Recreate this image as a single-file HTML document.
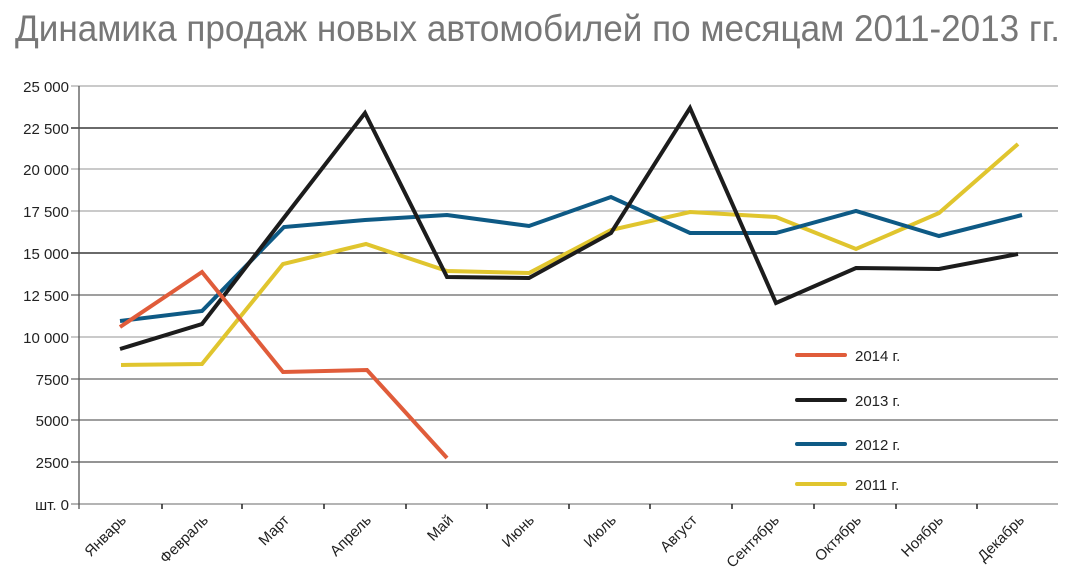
<!DOCTYPE html>
<html><head><meta charset="utf-8"><style>
html,body{margin:0;padding:0;background:#fff;}
svg{display:block;font-family:"Liberation Sans","DejaVu Sans",sans-serif;}
</style></head><body>
<svg width="1081" height="585" viewBox="0 0 1081 585" xmlns="http://www.w3.org/2000/svg">
<text x="15" y="41" font-size="37" fill="#777" textLength="1045" lengthAdjust="spacingAndGlyphs">Динамика продаж новых автомобилей по месяцам 2011-2013 гг.</text>
<g stroke-width="1.3">
<line x1="71" y1="86" x2="1058" y2="86" stroke="#aaa"/>
<line x1="71" y1="128" x2="1058" y2="128" stroke="#111"/>
<line x1="71" y1="169" x2="1058" y2="169" stroke="#aaa"/>
<line x1="71" y1="211" x2="1058" y2="211" stroke="#aaa"/>
<line x1="71" y1="253" x2="1058" y2="253" stroke="#111"/>
<line x1="71" y1="295" x2="1058" y2="295" stroke="#666"/>
<line x1="71" y1="337" x2="1058" y2="337" stroke="#aaa"/>
<line x1="71" y1="379" x2="1058" y2="379" stroke="#666"/>
<line x1="71" y1="420" x2="1058" y2="420" stroke="#666"/>
<line x1="71" y1="462" x2="1058" y2="462" stroke="#555"/>
<line x1="71" y1="504" x2="1058" y2="504" stroke="#aaa" stroke-width="1.8"/>
<line x1="79" y1="86" x2="79" y2="509" stroke="#555"/>
</g>
<g stroke="#222" stroke-width="1.5">
<line x1="162" y1="504" x2="162" y2="509"/><line x1="242" y1="504" x2="242" y2="509"/><line x1="324" y1="504" x2="324" y2="509"/><line x1="406" y1="504" x2="406" y2="509"/><line x1="487" y1="504" x2="487" y2="509"/><line x1="569" y1="504" x2="569" y2="509"/><line x1="650" y1="504" x2="650" y2="509"/><line x1="732" y1="504" x2="732" y2="509"/><line x1="814" y1="504" x2="814" y2="509"/><line x1="896" y1="504" x2="896" y2="509"/><line x1="977" y1="504" x2="977" y2="509"/>
</g>
<g font-size="15" fill="#222" text-anchor="end">
<text x="69" y="92">25 000</text><text x="69" y="134">22 500</text><text x="69" y="175">20 000</text><text x="69" y="217">17 500</text><text x="69" y="259">15 000</text><text x="69" y="301">12 500</text><text x="69" y="343">10 000</text><text x="69" y="385">7500</text><text x="69" y="426">5000</text><text x="69" y="468">2500</text><text x="69" y="510">шт. 0</text>
</g>
<g font-size="15" fill="#222" text-anchor="end">
<text transform="translate(127,521) rotate(-45)">Январь</text>
<text transform="translate(209,521) rotate(-45)">Февраль</text>
<text transform="translate(290,521) rotate(-45)">Март</text>
<text transform="translate(372,521) rotate(-45)">Апрель</text>
<text transform="translate(454,521) rotate(-45)">Май</text>
<text transform="translate(535,521) rotate(-45)">Июнь</text>
<text transform="translate(617,521) rotate(-45)">Июль</text>
<text transform="translate(698,521) rotate(-45)">Август</text>
<text transform="translate(780,521) rotate(-45)">Сентябрь</text>
<text transform="translate(862,521) rotate(-45)">Октябрь</text>
<text transform="translate(944,521) rotate(-45)">Ноябрь</text>
<text transform="translate(1025,521) rotate(-45)">Декабрь</text>
</g>
<g fill="none" stroke-width="4" stroke-linejoin="miter">
<polyline stroke="#e0c52e" points="121,365 202,364 283,264 366,244 447,271 529,273 611,230 690,212 776,217 856,249 939,213 1018,144"/>
<polyline stroke="#0e5a85" points="120,321 202,311 284,227 365,220 447,215 529,226 611,197 690,233 776,233 856,211 939,236 1022,215"/>
<polyline stroke="#1c1c1c" points="120,349 202,324 283,219 365,113 447,277 529,278 611,233 690,108 776,303 856,268 939,269 1018,254"/>
<polyline stroke="#e05c3a" points="120,327 202,272 283,372 367,370 447,458"/>
</g>
<g stroke-width="4" stroke-linecap="round">
<line x1="797" y1="355" x2="845" y2="355" stroke="#e05c3a"/>
<line x1="797" y1="400" x2="845" y2="400" stroke="#1c1c1c"/>
<line x1="797" y1="444" x2="845" y2="444" stroke="#0e5a85"/>
<line x1="797" y1="484" x2="845" y2="484" stroke="#e0c52e"/>
</g>
<g font-size="15" fill="#222">
<text x="855" y="361">2014 г.</text><text x="855" y="406">2013 г.</text><text x="855" y="450">2012 г.</text><text x="855" y="490">2011 г.</text>
</g>
</svg>
</body></html>
